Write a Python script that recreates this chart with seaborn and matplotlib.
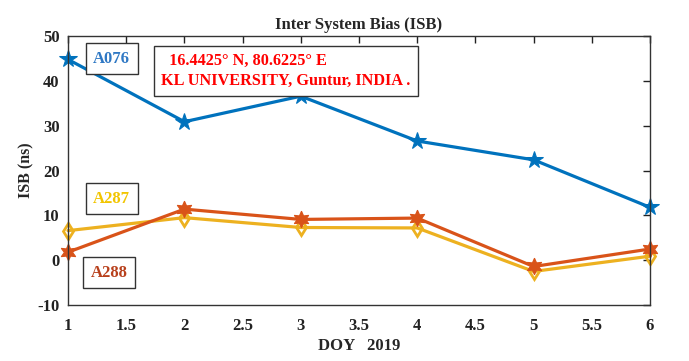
import pandas as pd
import seaborn as sns
import matplotlib.pyplot as plt

# dados
doy = [1, 2, 3, 4, 5, 6]
isb_a076 = [44.8, 30.9, 36.6, 26.6, 22.4, 11.8]
isb_a288 = [1.8, 11.4, 9.1, 9.4, -1.4, 2.5]
isb_a287 = [6.6, 9.5, 7.3, 7.2, -2.5, 0.9]

x_ticks = [1, 1.5, 2, 2.5, 3, 3.5, 4, 4.5, 5, 5.5, 6]
x_tick_labels = ['1', '1.5', '2', '2.5', '3', '3.5', '4', '4.5', '5', '5.5', '6']
y_ticks = [-10, 0, 10, 20, 30, 40, 50]

sns.set_style('white')
plt.rcParams['font.family'] = ['Liberation Serif', 'DejaVu Serif']
plt.rcParams['font.weight'] = 'bold'
plt.rcParams['axes.unicode_minus'] = False

df = pd.DataFrame({'DOY': doy, 'A076': isb_a076, 'A288': isb_a288, 'A287': isb_a287})

fig = plt.figure(figsize=(6.89, 3.61), dpi=100)
ax = fig.add_axes([0.0987, 0.155, 0.8447, 0.745])

sns.lineplot(data=df, x='DOY', y='A076', ax=ax, color='#0072BD', lw=2.3,
             marker='*', markersize=13, markeredgecolor='#0072BD', clip_on=False)
sns.lineplot(data=df, x='DOY', y='A287', ax=ax, color='#EDB120', lw=2.3,
             marker='d', markersize=8, markerfacecolor='none',
             markeredgecolor='#EDB120', markeredgewidth=2, clip_on=False)
sns.lineplot(data=df, x='DOY', y='A288', ax=ax, color='#D95319', lw=2.3,
             marker=(6, 1, 0), markersize=12, markeredgecolor='#D95319', clip_on=False)

ax.set_xlim(1, 6)
ax.set_ylim(-10, 50)
ax.set_xticks(x_ticks)
ax.set_xticklabels(x_tick_labels)
ax.set_yticks(y_ticks)
ax.tick_params(direction='in', top=True, right=True, length=5, width=1,
               labelsize=12, colors='#222222')
ax.tick_params(axis='x', pad=9)
ax.tick_params(axis='y', pad=6)
for lab in ax.get_xticklabels() + ax.get_yticklabels():
    lab.set_fontweight('bold')
for s in ax.spines.values():
    s.set_color('#333333')
    s.set_linewidth(1)

ax.set_title('Inter System Bias (ISB)', fontsize=12, fontweight='bold', pad=5)
ax.set_xlabel('DOY   2019', fontsize=12, fontweight='bold', labelpad=3)
ax.set_ylabel('ISB (ns)', fontsize=11.5, fontweight='bold', labelpad=2)

caixa = dict(boxstyle='square,pad=0.45', fc='white', ec='#333333', lw=1)
ax.text(0.043, 0.915, 'A076', transform=ax.transAxes, color='#2F78C4',
        fontsize=12, fontweight='bold', va='center', ha='left', bbox=caixa)
ax.text(0.043, 0.395, 'A287', transform=ax.transAxes, color='#F2C500',
        fontsize=12, fontweight='bold', va='center', ha='left', bbox=caixa)
ax.text(0.039, 0.12, 'A288', transform=ax.transAxes, color='#B8401C',
        fontsize=12, fontweight='bold', va='center', ha='left', bbox=dict(caixa, pad=0.5))
ax.text(0.16, 0.87, '  16.4425° N, 80.6225° E\nKL UNIVERSITY, Guntur, INDIA .',
        transform=ax.transAxes, color='#FF0000', fontsize=11.7, fontweight='bold',
        va='center', ha='left', linespacing=1.3, bbox=dict(caixa, pad=0.55))

fig.savefig('out.png', dpi=100)
